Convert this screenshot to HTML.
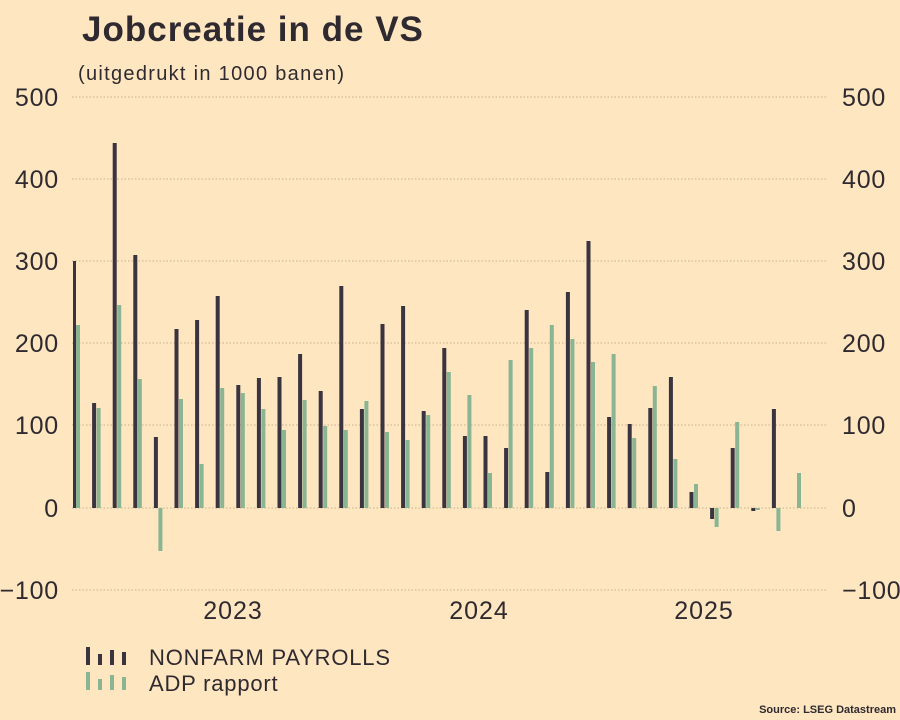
<!DOCTYPE html>
<html><head><meta charset="utf-8"><style>
html,body{margin:0;padding:0;background:#fde6c0;}
svg{display:block;font-family:"Liberation Sans",sans-serif;}
</style></head><body>
<svg width="900" height="720" viewBox="0 0 900 720">
<rect width="900" height="720" fill="#fde6c0"/>
<text x="82" y="41" font-size="35" fill="#2f2a30" font-weight="bold" letter-spacing="1">Jobcreatie in de VS</text>
<text x="78" y="80" font-size="20" fill="#2f2a30" letter-spacing="1.3">(uitgedrukt in 1000 banen)</text>
<g stroke="#c9b08c" stroke-width="1" stroke-dasharray="1.5,2">
<line x1="72" x2="828" y1="97" y2="97"/><line x1="72" x2="828" y1="179" y2="179"/>
<line x1="72" x2="828" y1="261" y2="261"/><line x1="72" x2="828" y1="343" y2="343"/>
<line x1="72" x2="828" y1="425" y2="425"/><line x1="72" x2="828" y1="508" y2="508"/>
<line x1="72" x2="828" y1="590" y2="590"/>
</g>
<g font-size="25" fill="#2f2a30" text-anchor="end" letter-spacing="0.8">
<text x="59" y="106">500</text><text x="59" y="188">400</text><text x="59" y="270">300</text>
<text x="59" y="352">200</text><text x="59" y="434">100</text><text x="59" y="517">0</text><text x="59" y="599">−100</text>
</g>
<g font-size="25" fill="#2f2a30" letter-spacing="0.8">
<text x="842" y="106">500</text><text x="842" y="188">400</text><text x="842" y="270">300</text>
<text x="842" y="352">200</text><text x="842" y="434">100</text><text x="842" y="517">0</text><text x="842" y="599">−100</text>
</g>
<g font-size="25" fill="#2f2a30" text-anchor="middle" letter-spacing="1">
<text x="233" y="619">2023</text><text x="479" y="619">2024</text><text x="704" y="619">2025</text>
</g>
<g fill="#3a3340">
<rect x="73" y="261" width="3" height="247"/>
<rect x="92.1" y="403" width="4" height="105"/>
<rect x="112.7" y="143" width="4" height="365"/>
<rect x="133.3" y="255" width="4" height="253"/>
<rect x="153.9" y="437" width="4" height="71"/>
<rect x="174.5" y="329" width="4" height="179"/>
<rect x="195.1" y="320" width="4" height="188"/>
<rect x="215.7" y="296" width="4" height="212"/>
<rect x="236.3" y="385" width="4" height="123"/>
<rect x="256.9" y="378" width="4" height="130"/>
<rect x="277.5" y="377" width="4" height="131"/>
<rect x="298.1" y="354" width="4" height="154"/>
<rect x="318.7" y="391" width="4" height="117"/>
<rect x="339.3" y="286" width="4" height="222"/>
<rect x="359.9" y="409" width="4" height="99"/>
<rect x="380.5" y="324" width="4" height="184"/>
<rect x="401.1" y="306" width="4" height="202"/>
<rect x="421.7" y="411" width="4" height="97"/>
<rect x="442.3" y="348" width="4" height="160"/>
<rect x="462.9" y="436" width="4" height="72"/>
<rect x="483.5" y="436" width="4" height="72"/>
<rect x="504.1" y="448" width="4" height="60"/>
<rect x="524.7" y="310" width="4" height="198"/>
<rect x="545.3" y="472" width="4" height="36"/>
<rect x="565.9" y="292" width="4" height="216"/>
<rect x="586.5" y="241" width="4" height="267"/>
<rect x="607.1" y="417" width="4" height="91"/>
<rect x="627.7" y="424" width="4" height="84"/>
<rect x="648.3" y="408" width="4" height="100"/>
<rect x="668.9" y="377" width="4" height="131"/>
<rect x="689.5" y="492" width="4" height="16"/>
<rect x="710.1" y="508" width="4" height="11"/>
<rect x="730.7" y="448" width="4" height="60"/>
<rect x="751.3" y="508" width="4" height="3"/>
<rect x="771.9" y="409" width="4" height="99"/>
</g>
<g fill="#8ab592">
<rect x="76" y="325" width="4" height="183"/>
<rect x="96.6" y="408" width="4" height="100"/>
<rect x="117.2" y="305" width="4" height="203"/>
<rect x="137.8" y="379" width="4" height="129"/>
<rect x="158.4" y="508" width="4" height="43"/>
<rect x="179" y="399" width="4" height="109"/>
<rect x="199.6" y="464" width="4" height="44"/>
<rect x="220.2" y="388" width="4" height="120"/>
<rect x="240.8" y="393" width="4" height="115"/>
<rect x="261.4" y="409" width="4" height="99"/>
<rect x="282" y="430" width="4" height="78"/>
<rect x="302.6" y="400" width="4" height="108"/>
<rect x="323.2" y="426" width="4" height="82"/>
<rect x="343.8" y="430" width="4" height="78"/>
<rect x="364.4" y="401" width="4" height="107"/>
<rect x="385" y="432" width="4" height="76"/>
<rect x="405.6" y="440" width="4" height="68"/>
<rect x="426.2" y="415" width="4" height="93"/>
<rect x="446.8" y="372" width="4" height="136"/>
<rect x="467.4" y="395" width="4" height="113"/>
<rect x="488" y="473" width="4" height="35"/>
<rect x="508.6" y="360" width="4" height="148"/>
<rect x="529.2" y="348" width="4" height="160"/>
<rect x="549.8" y="325" width="4" height="183"/>
<rect x="570.4" y="339" width="4" height="169"/>
<rect x="591" y="362" width="4" height="146"/>
<rect x="611.6" y="354" width="4" height="154"/>
<rect x="632.2" y="438" width="4" height="70"/>
<rect x="652.8" y="386" width="4" height="122"/>
<rect x="673.4" y="459" width="4" height="49"/>
<rect x="694" y="484" width="4" height="24"/>
<rect x="714.6" y="508" width="4" height="19"/>
<rect x="735.2" y="422" width="4" height="86"/>
<rect x="755.8" y="508" width="4" height="2"/>
<rect x="776.4" y="508" width="4" height="23"/>
<rect x="797" y="473" width="4" height="35"/>
</g>
<g fill="#3a3340">
<rect x="86" y="647" width="4" height="18"/><rect x="98" y="654" width="4" height="11"/>
<rect x="110" y="650" width="4" height="15"/><rect x="122" y="652" width="4" height="13"/>
</g>
<g fill="#8ab592">
<rect x="86" y="672" width="4" height="18"/><rect x="98" y="679" width="4" height="11"/>
<rect x="110" y="675" width="4" height="15"/><rect x="122" y="677" width="4" height="13"/>
</g>
<text x="149" y="665" font-size="22" fill="#2f2a30" letter-spacing="0.8">NONFARM PAYROLLS</text>
<text x="149" y="691" font-size="22" fill="#2f2a30" letter-spacing="0.8">ADP rapport</text>
<text x="896" y="713" font-size="11" font-weight="bold" fill="#2f2a30" text-anchor="end">Source: LSEG Datastream</text>
</svg>
</body></html>
